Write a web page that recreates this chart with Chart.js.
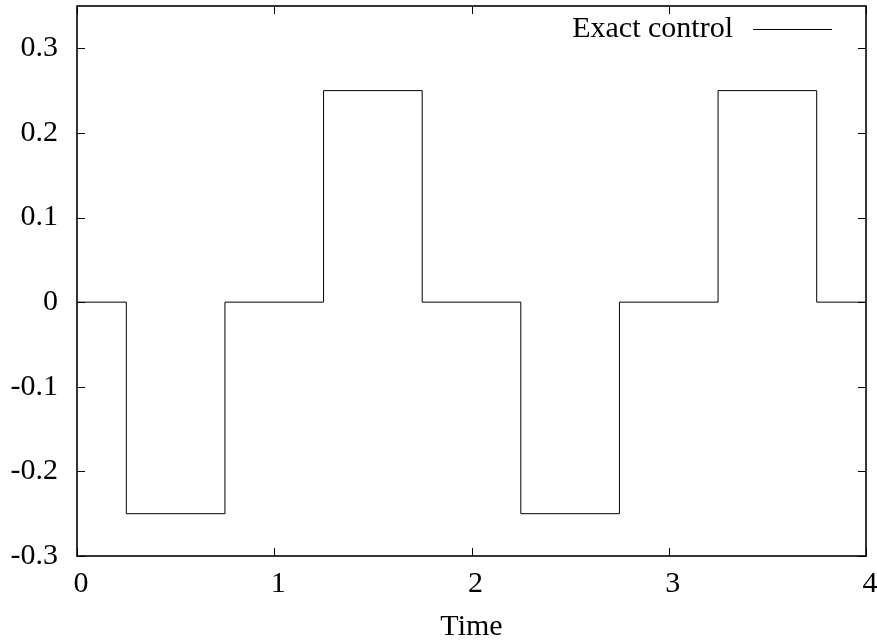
<!DOCTYPE html>
<html><head><meta charset="utf-8">
<script src="https://cdn.jsdelivr.net/npm/chart.js@4"></script>
<style>html,body{margin:0;padding:0;background:#fff}#wrap{width:877px;height:640px}</style>
</head><body><div id="wrap"><canvas id="c" width="877" height="640"></canvas></div>
<script>
const switchTimes = [0, 0.25, 0.75, 1.25, 1.75, 2.25, 2.75, 3.25, 3.75, 4];
const controlValues = [0, -0.25, 0, 0.25, 0, -0.25, 0, 0.25, 0, 0];
const xTickValues = [0, 1, 2, 3, 4];
const xTickLabels = ['0', '1', '2', '3', '4'];
const yTickValues = [-0.3, -0.2, -0.1, 0, 0.1, 0.2, 0.3];
const yTickLabels = ['-0.3', '-0.2', '-0.1', '0', '0.1', '0.2', '0.3'];
const seriesLabel = 'Exact control';
const xTitle = 'Time';

const FONT = '"Liberation Serif", "Times New Roman", serif';

function labelFor(values, labels, v) {
  const i = values.findIndex(t => Math.abs(t - v) < 1e-9);
  return i >= 0 ? labels[i] : '';
}

const frame = {
  id: 'frame',
  afterDraw(chart) {
    const {ctx, chartArea: a, scales: {x, y}} = chart;
    ctx.save();
    ctx.strokeStyle = '#000';
    ctx.lineWidth = 1;
    ctx.beginPath();
    x.ticks.forEach(t => {
      const px = Math.round(x.getPixelForValue(t.value)) + 0.5;
      ctx.moveTo(px, a.bottom); ctx.lineTo(px, a.bottom - 8);
      ctx.moveTo(px, a.top); ctx.lineTo(px, a.top + 8);
    });
    y.ticks.forEach(t => {
      const py = Math.round(y.getPixelForValue(t.value)) + 0.5;
      ctx.moveTo(a.left, py); ctx.lineTo(a.left + 8, py);
      ctx.moveTo(a.right, py); ctx.lineTo(a.right - 8, py);
    });
    ctx.stroke();
    ctx.lineWidth = 1.6;
    ctx.strokeRect(a.left, a.top, a.right - a.left, a.bottom - a.top);
    // key
    ctx.font = '30px ' + FONT;
    ctx.fillStyle = '#000';
    ctx.textAlign = 'right';
    ctx.textBaseline = 'alphabetic';
    ctx.fillText(chart.data.datasets[0].label, a.right - 133, a.top + 31);
    ctx.lineWidth = 1;
    ctx.beginPath();
    ctx.moveTo(a.right - 113, a.top + 23.5);
    ctx.lineTo(a.right - 34, a.top + 23.5);
    ctx.stroke();
    ctx.restore();
  }
};

new Chart(document.getElementById('c'), {
  type: 'line',
  data: {
    datasets: [{
      label: seriesLabel,
      data: switchTimes.map((t, i) => ({x: t, y: controlValues[i]})),
      stepped: 'before',
      borderColor: '#000',
      borderWidth: 1,
      pointRadius: 0,
      fill: false
    }]
  },
  options: {
    responsive: false,
    devicePixelRatio: 1,
    animation: false,
    layout: {padding: {top: 6, right: 11, left: 0, bottom: 0}},
    plugins: {legend: {display: false}, tooltip: {enabled: false}},
    scales: {
      x: {
        type: 'linear',
        min: 0, max: 4,
        grid: {display: false, drawTicks: false},
        border: {display: false},
        afterBuildTicks: s => { s.ticks = xTickValues.map(v => ({value: v})); },
        afterFit: s => { s.height = 84; s.paddingLeft = 0; s.paddingRight = 0; },
        ticks: {
          color: '#000', padding: 10, maxRotation: 0, autoSkip: false, labelOffset: 4,
          font: {family: FONT, size: 30},
          callback: v => labelFor(xTickValues, xTickLabels, v)
        },
        title: {
          display: true, text: xTitle, color: '#000',
          font: {family: FONT, size: 30, lineHeight: 1},
          padding: {top: 0, bottom: -2}
        }
      },
      y: {
        type: 'linear',
        min: -0.3, max: 0.35,
        grid: {display: false, drawTicks: false},
        border: {display: false},
        afterBuildTicks: s => { s.ticks = yTickValues.map(v => ({value: v})); },
        afterFit: s => { s.width = 77; s.paddingTop = 0; s.paddingBottom = 0; },
        ticks: {
          color: '#000', padding: 19, autoSkip: false,
          font: {family: FONT, size: 30},
          callback: v => labelFor(yTickValues, yTickLabels, v)
        }
      }
    }
  },
  plugins: [frame]
});
</script>
</body></html>
